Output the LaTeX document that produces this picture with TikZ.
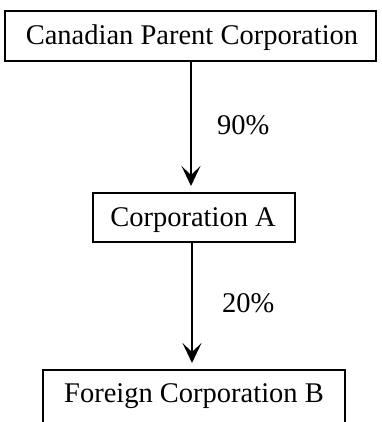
\documentclass[tikz,border=0pt]{standalone}
\usepackage{fontspec}
\setmainfont{Liberation Serif}
\usetikzlibrary{arrows.meta}
\begin{document}
\begin{tikzpicture}[x=1pt,y=1pt,
  lbl/.style={font=\fontsize{28.5}{30}\selectfont, inner sep=0pt},
  boxline/.style={line width=1.6pt},
  conn/.style={line width=1.8pt, -{Stealth[length=20pt,width=19pt,inset=9pt]}}]
\useasboundingbox (0,0) rectangle (381,422);
% top box
\node[boxline, draw, minimum width=371pt, minimum height=50pt, inner sep=0pt] (cpc) at (190.5,386) {};
\node[lbl, anchor=base] (cpct) at (192,377) {Canadian Parent Corporation};
% box A
\node[boxline, draw, minimum width=202pt, minimum height=49pt, inner sep=0pt] (ca) at (194,204.5) {};
\node[lbl, anchor=base] (cat) at (193,195) {Corporation A};
% bottom box (cut off at bottom)
\coordinate (fbl) at (43,-5);
\coordinate (ftl) at (43,52);
\coordinate (ftr) at (345,52);
\coordinate (fbr) at (345,-5);
\draw[boxline] (fbl) -- (ftl) -- (ftr) -- (fbr);
\node[lbl, anchor=base] (fcb) at (194,19) {Foreign Corporation B};
% arrows
\coordinate (a1s) at (191,361);
\coordinate (a1e) at (191,236);
\coordinate (a2s) at (192,180);
\coordinate (a2e) at (192,59);
\draw[conn] (a1s) -- (a1e);
\draw[conn] (a2s) -- (a2e);
\node[lbl, anchor=west] (p90) at (217,297) {90\%};
\node[lbl, anchor=west] (p20) at (222,119) {20\%};
\end{tikzpicture}
\end{document}
